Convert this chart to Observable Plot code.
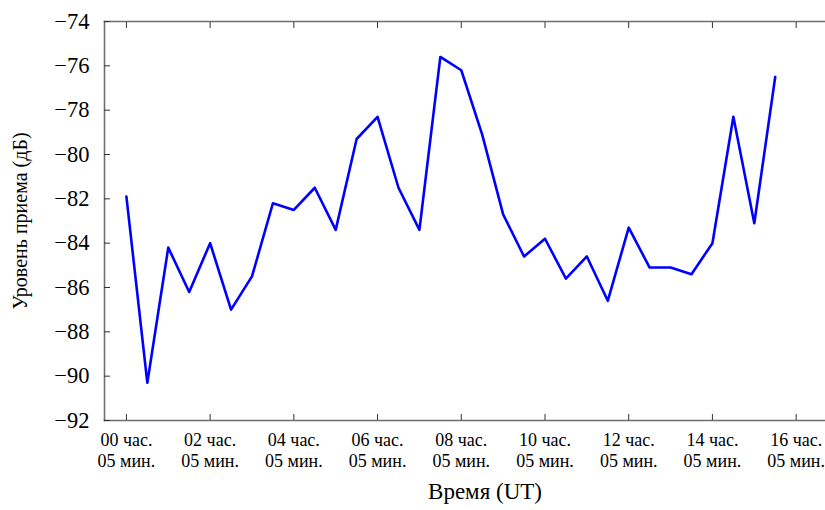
<!DOCTYPE html>
<html><head><meta charset="utf-8">
<script src="https://cdn.jsdelivr.net/npm/d3@7"></script>
<script src="https://cdn.jsdelivr.net/npm/@observablehq/plot@0.6"></script>
<style>
body{margin:0;background:#fff}
#chart{width:825px;height:510px;overflow:hidden;position:relative}
#chart svg{overflow:hidden}
#chart svg, #chart svg text{font-family:"Liberation Serif","Times New Roman",serif !important}
</style>
</head><body><div id="chart"></div>
<script>
const times = ["00:05","00:35","01:05","01:35","02:05","02:35","03:05","03:35","04:05","04:35",
  "05:05","05:35","06:05","06:35","07:05","07:35","08:05","08:35","09:05","09:35",
  "10:05","10:35","11:05","11:35","12:05","12:35","13:05","13:35","14:05","14:35",
  "15:05","15:35"];
const levels = [-81.9,-90.3,-84.2,-86.2,-84.0,-87.0,-85.5,-82.2,-82.5,-81.5,
  -83.4,-79.3,-78.3,-81.5,-83.4,-75.6,-76.2,-79.1,-82.7,-84.6,
  -83.8,-85.6,-84.6,-86.6,-83.3,-85.1,-85.1,-85.4,-84.0,-78.3,
  -83.1,-76.5];
const xTickTimes = ["00:05","02:05","04:05","06:05","08:05","10:05","12:05","14:05","16:05"];
const xTickLabels = ["00 час.\n05 мин.","02 час.\n05 мин.","04 час.\n05 мин.","06 час.\n05 мин.",
  "08 час.\n05 мин.","10 час.\n05 мин.","12 час.\n05 мин.","14 час.\n05 мин.","16 час.\n05 мин."];
const yTicks = [-92,-90,-88,-86,-84,-82,-80,-78,-76,-74];
const xTitle = "Время (UT)";
const yTitle = "Уровень приема (дБ)";

const toHours = s => { const [h, m] = s.split(":").map(Number); return h + m / 60; };
const data = times.map((t, i) => ({x: toHours(t), y: levels[i]}));
const xTicks = xTickTimes.map(toHours);
const labelOf = new Map(xTicks.map((v, i) => [v, xTickLabels[i]]));

const frameStyle = {stroke: "#6e6e6e", strokeWidth: 1.6};
const chart = Plot.plot({
  width: 825, height: 510,
  marginLeft: 104, marginRight: -40, marginTop: 21, marginBottom: 90,
  style: {fontFamily: "'Liberation Serif','Times New Roman',serif", background: "#fff", color: "#000"},
  x: {domain: [-0.44, 17.74]},
  y: {domain: [-92, -74]},
  marks: [
    Plot.frame({anchor: "left", ...frameStyle}),
    Plot.frame({anchor: "top", ...frameStyle}),
    Plot.frame({anchor: "bottom", ...frameStyle}),
    Plot.axisY(yTicks, {tickSize: -6, tickFormat: () => "", label: null, stroke: "#333"}),
    Plot.axisY(yTicks, {tickSize: 0, tickPadding: 15, fontSize: 22.5, tickFormat: d => d3.format("")(d).replace("-", "\u2212"), label: null}),
    Plot.axisX(xTicks, {anchor: "top", tickSize: -6, tickFormat: () => "", label: null, stroke: "#333"}),
    Plot.axisX(xTicks, {anchor: "bottom", tickSize: -6, tickFormat: () => "", label: null, stroke: "#333"}),
    Plot.axisX(xTicks, {anchor: "bottom", tickSize: 0, tickPadding: 10, fontSize: 18, lineHeight: 1.2,
      tickFormat: d => labelOf.get(d), label: null}),
    Plot.text([xTitle], {frameAnchor: "bottom", dy: 78, fontSize: 23, fill: "#000"}),
    Plot.text([yTitle], {frameAnchor: "left", rotate: -90, dx: -84, fontSize: 20, fill: "#000", textAnchor: "middle"}),
    Plot.line(data, {x: "x", y: "y", stroke: "#0000ff", strokeWidth: 2.6})
  ]
});
document.getElementById("chart").appendChild(chart);
</script>
</body></html>
